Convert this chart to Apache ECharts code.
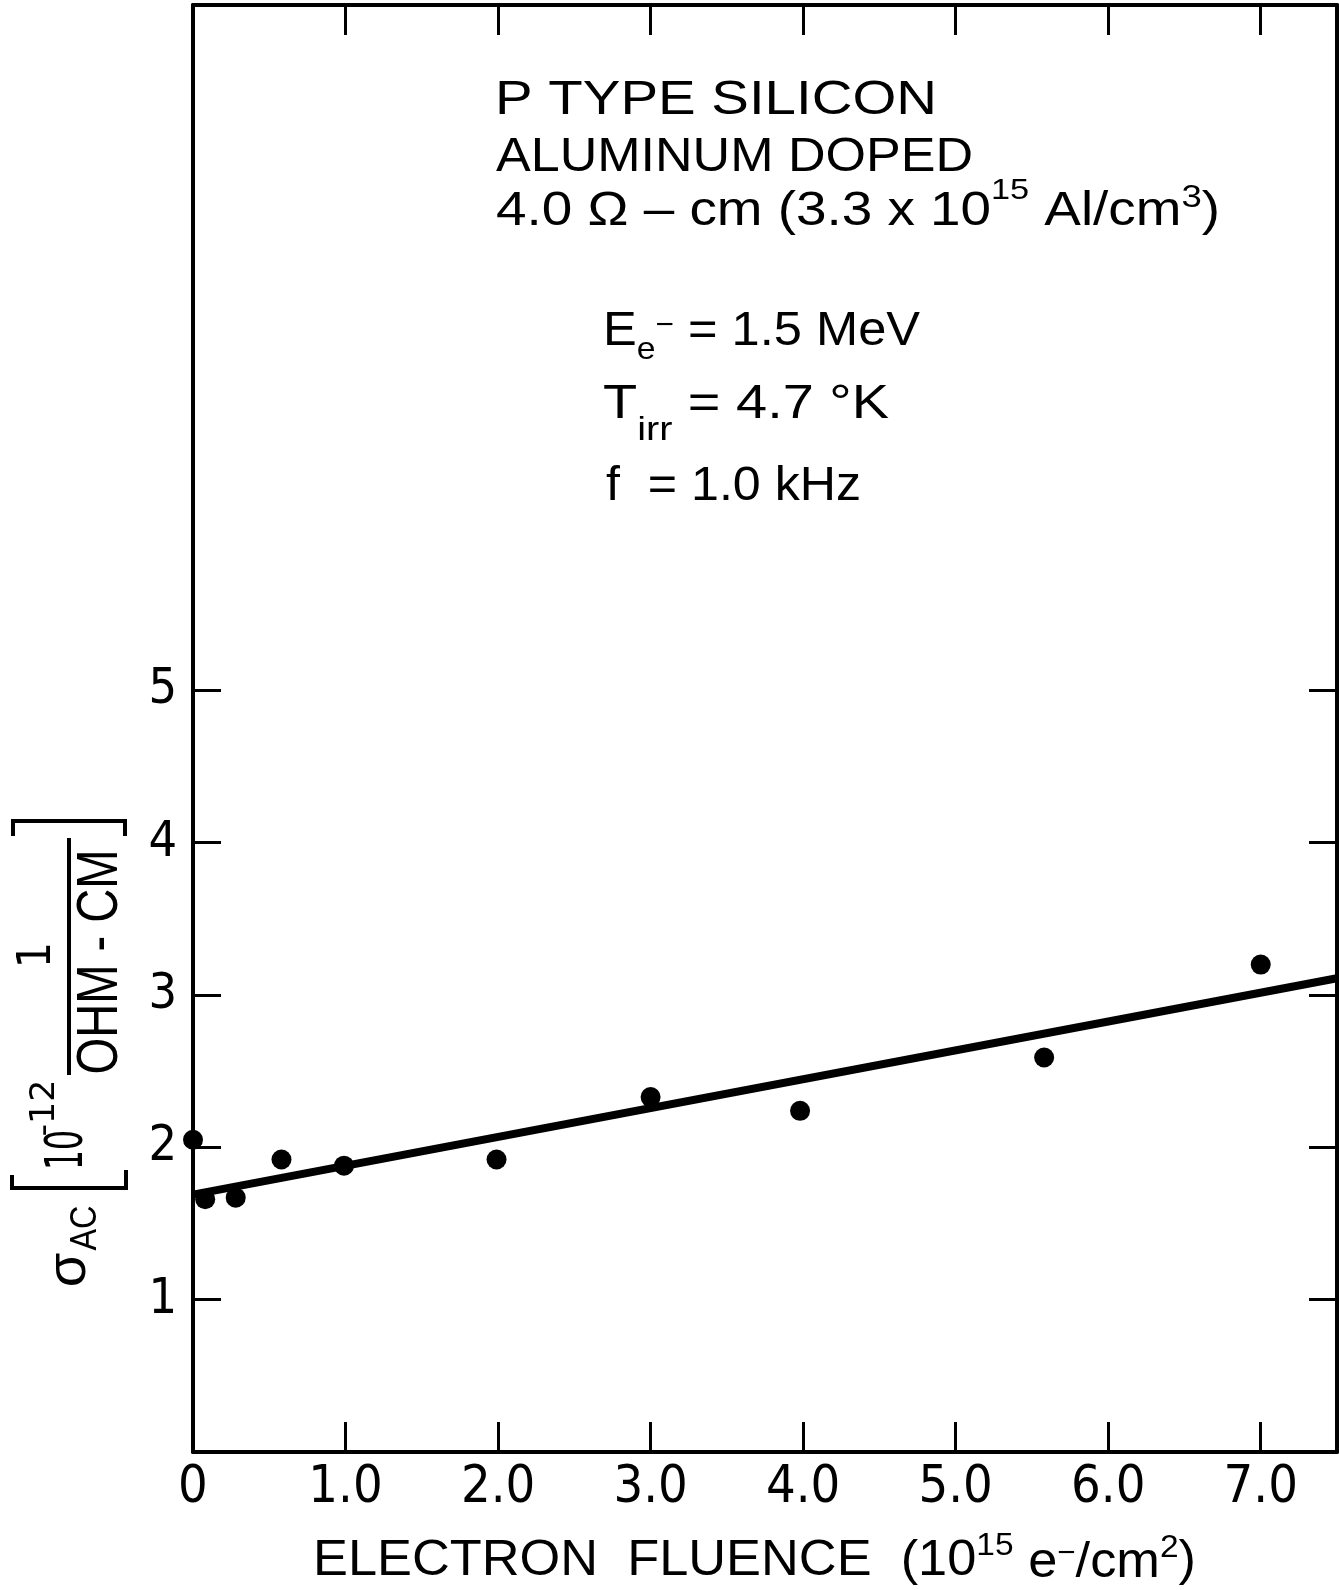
<!DOCTYPE html>
<html>
<head>
<meta charset="utf-8">
<script src="https://cdn.jsdelivr.net/npm/echarts@6/dist/echarts.min.js"></script>
<style>
  html, body { margin: 0; padding: 0; background: #fff; }
  #chart { width: 1339px; height: 1590px; }
</style>
</head>
<body>
<div id="chart"></div>
<script>
// measured points (10^15 e-/cm2, 10^-12 1/ohm-cm)
const fluence = [0, 0.08, 0.28, 0.58, 0.99, 1.99, 3.0, 3.98, 5.58, 7.0];
const sigma = [2.05, 1.66, 1.67, 1.92, 1.88, 1.92, 2.33, 2.24, 2.59, 3.20];
// fitted straight line
const fitX = [0, 7.5];
const fitY = [1.69, 3.11];
// ticks
const xTicks = [0, 1, 2, 3, 4, 5, 6, 7];
const xTickLabels = ["0", "1.0", "2.0", "3.0", "4.0", "5.0", "6.0", "7.0"];
const yTicks = [1, 2, 3, 4, 5];

const FONT = "'Liberation Sans', Arial, sans-serif";
const NARROW = "'Liberation Sans Narrow', 'DejaVu Sans Condensed', sans-serif";
const INK = "#000";

const ctx = document.createElement("canvas").getContext("2d");
function measure(t, size, fam) {
	ctx.font = size + "px " + fam;
	return ctx.measureText(t).width;
}

function textEl(t, x, y, size, fam, extra) {
	return Object.assign({
		type: "text",
		x: x,
		y: y,
		silent: true,
		style: {
			text: t, x: 0, y: 0,
			fontSize: size, fontFamily: fam, fill: INK,
			textAlign: "left", textVerticalAlign: "middle", verticalAlign: "middle",
		},
	}, extra || {});
}

// lay out a run of pieces (normal / super / subscript) stretched from x0 to x1
function run(segs, x0, x1, fam) {
	const ws = segs.map(s => measure(s.t, s.size, fam));
	const total = ws.reduce((a, b) => a + b, 0);
	const k = (x1 - x0) / total;
	let x = x0;
	return segs.map((s, i) => {
		const el = textEl(s.t, x, s.y, s.size, fam, { scaleX: k });
		x += ws[i] * k;
		return el;
	});
}

// rotated (reads bottom to top) text centred on cx, cy
function vtext(t, cx, cy, size, fam, len) {
	const k = len ? len / measure(t, size, fam) : 1;
	const el = textEl(t, cx, cy, size, fam, { rotation: Math.PI / 2, scaleX: k });
	el.style.textAlign = "center";
	return el;
}

function bracket(points) {
	return {
		type: "polyline", silent: true,
		shape: { points: points },
		style: { stroke: INK, lineWidth: 4, fill: null },
	};
}

const graphics = [].concat(
	run([{ t: "P TYPE SILICON", size: 48, y: 101 }], 495, 937, FONT),
	run([{ t: "ALUMINUM DOPED", size: 48, y: 158 }], 496, 973, FONT),
	run([
		{ t: "4.0 Ω – cm (3.3 x 10", size: 48, y: 212 },
		{ t: "15", size: 30, y: 191 },
		{ t: " Al/cm", size: 48, y: 212 },
		{ t: "3", size: 32, y: 198 },
		{ t: ")", size: 48, y: 212 },
	], 496, 1220, FONT),
	run([
		{ t: "E", size: 48, y: 332 },
		{ t: "e", size: 32, y: 350 },
		{ t: "−", size: 30, y: 326 },
		{ t: " = 1.5 MeV", size: 48, y: 332 },
	], 603, 920, FONT),
	run([
		{ t: "T", size: 48, y: 405 },
		{ t: "irr", size: 34, y: 431 },
		{ t: " = 4.7 °K", size: 48, y: 405 },
	], 603, 889, FONT),
	run([{ t: "f  = 1.0 kHz", size: 48, y: 487 }], 606, 861, FONT),
	// x axis title
	run([
		{ t: "ELECTRON  FLUENCE  (10", size: 50, y: 1561 },
		{ t: "15", size: 32, y: 1546 },
		{ t: " e", size: 50, y: 1563 },
		{ t: "−", size: 30, y: 1554 },
		{ t: "/cm", size: 50, y: 1563 },
		{ t: "2", size: 32, y: 1548 },
		{ t: ")", size: 50, y: 1561 },
	], 313, 1196, FONT),
	// y axis title, rotated
	[
		vtext("σ", 70, 1270, 56, FONT),
		vtext("AC", 86, 1228, 36, FONT, 45),
		bracket([[12, 1175], [12, 1188], [126, 1188], [126, 1170]]),
		vtext("10", 68, 1150, 52, NARROW, 40),
		vtext("-12", 45, 1108, 34, NARROW, 57),
		{
			type: "line", silent: true,
			shape: { x1: 69, y1: 838, x2: 69, y2: 1075 },
			style: { stroke: INK, lineWidth: 4 },
		},
		vtext("1", 38, 955, 46, NARROW),
		vtext("OHM - CM", 101, 962, 58, FONT, 225),
		bracket([[13, 836], [13, 821], [125, 821], [125, 836]]),
	]
);

function xAxis(pos, labels) {
	return {
		type: "value", position: pos, min: 0, max: 7.5, interval: 1,
		axisLine: { show: true, onZero: false, lineStyle: { color: INK, width: 4 } },
		axisTick: { show: true, inside: true, length: 30, customValues: xTicks.slice(1), lineStyle: { color: INK, width: 3 } },
		axisLabel: {
			show: labels, margin: 10, color: INK, fontSize: 52, fontFamily: NARROW,
			customValues: xTicks,
			formatter: v => xTickLabels[xTicks.indexOf(Math.round(v))] || "",
		},
		splitLine: { show: false },
	};
}

function yAxis(pos, labels) {
	return {
		type: "value", position: pos, min: 0, max: 9.5, interval: 1,
		axisLine: { show: true, onZero: false, lineStyle: { color: INK, width: 4 } },
		axisTick: { show: true, inside: true, length: 28, customValues: yTicks, lineStyle: { color: INK, width: 3 } },
		axisLabel: {
			show: labels, margin: 16, color: INK, fontSize: 50, fontFamily: NARROW,
			customValues: yTicks,
			formatter: v => (yTicks.indexOf(v) >= 0 ? String(v) : ""),
		},
		splitLine: { show: false },
	};
}

const myChart = echarts.init(document.getElementById("chart"));
myChart.setOption({
	animation: false,
	backgroundColor: "#fff",
	grid: { left: 193, right: 2, top: 5, bottom: 138 },
	xAxis: [xAxis("bottom", true), xAxis("top", false)],
	yAxis: [yAxis("left", true), yAxis("right", false)],
	series: [
		{
			type: "line",
			data: fitX.map((x, i) => [x, fitY[i]]),
			symbol: "none",
			lineStyle: { color: INK, width: 8 },
			z: 2,
		},
		{
			type: "scatter",
			data: fluence.map((x, i) => [x, sigma[i]]),
			symbolSize: 20,
			itemStyle: { color: INK, opacity: 1 },
			clip: false,
			z: 3,
		},
	],
	graphic: graphics,
});
</script>
</body>
</html>
